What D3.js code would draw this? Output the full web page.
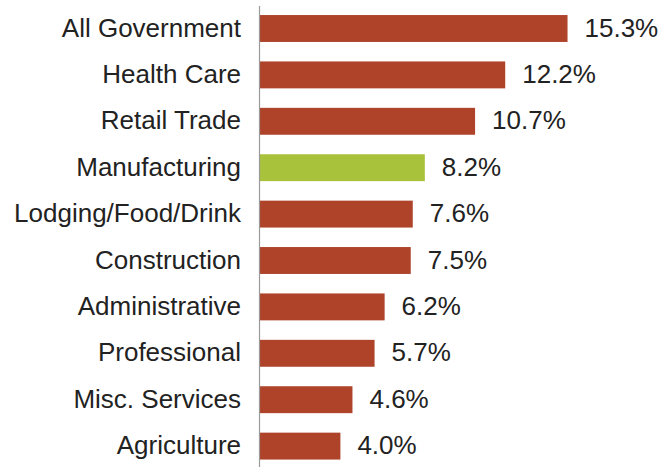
<!DOCTYPE html>
<html>
<head>
<meta charset="utf-8">
<script src="https://cdn.jsdelivr.net/npm/d3@7"></script>
<style>
  html, body { margin: 0; padding: 0; background: #fff; }
  svg { display: block; }
  text { font-family: "Liberation Sans", Arial, sans-serif; fill: #222; }
</style>
</head>
<body>
<svg id="chart" width="661" height="467"></svg>
<script>
// Share of employment by industry (%)
const industries = ["All Government", "Health Care", "Retail Trade", "Manufacturing",
  "Lodging/Food/Drink", "Construction", "Administrative", "Professional",
  "Misc. Services", "Agriculture"];
const shares = [15.3, 12.2, 10.7, 8.2, 7.6, 7.5, 6.2, 5.7, 4.6, 4.0];
const highlighted = ["Manufacturing"];

const width = 661, height = 467;
const svg = d3.select("#chart");

const x = d3.scaleLinear().domain([0, 16]).range([260, 260 + 16 * 20.1]);
const y = d3.scaleBand().domain(industries).range([5.3, 469.3])
  .paddingInner(0.42).paddingOuter(0.21);

const rows = industries.map((name, i) => ({ name, value: shares[i] }));

svg.append("g").selectAll("rect").data(rows).join("rect")
  .attr("x", x(0))
  .attr("y", d => y(d.name))
  .attr("width", d => x(d.value) - x(0))
  .attr("height", y.bandwidth())
  .attr("fill", d => highlighted.includes(d.name) ? "#a9c23c" : "#ae432a");

// category labels
svg.append("g").selectAll("text").data(rows).join("text")
  .attr("x", 241)
  .attr("y", d => y(d.name) + y.bandwidth() / 2 + 8)
  .attr("text-anchor", "end")
  .style("font-size", "26px")
  .text(d => d.name);

// value labels
svg.append("g").selectAll("text").data(rows).join("text")
  .attr("x", d => x(d.value) + 17)
  .attr("y", d => y(d.name) + y.bandwidth() / 2 + 8)
  .style("font-size", "26px")
  .text(d => d.value.toFixed(1) + "%");

// category axis line
svg.append("line")
  .attr("x1", 259.5).attr("x2", 259.5)
  .attr("y1", 6).attr("y2", height)
  .attr("stroke", "#9a9a9a").attr("stroke-width", 1.2);
</script>
</body>
</html>
